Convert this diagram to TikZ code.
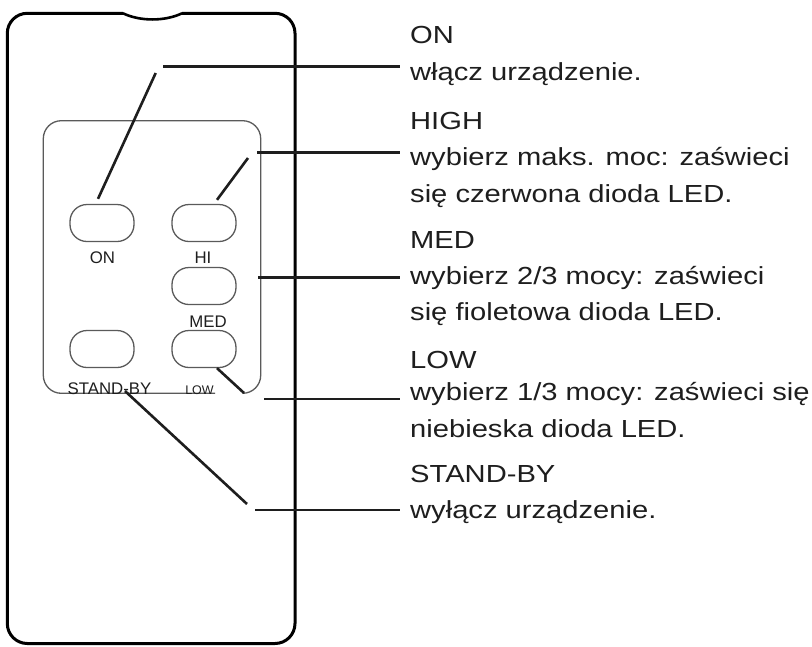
\documentclass[tikz,border=0pt]{standalone}
\usepackage{fontspec}
\setmainfont{Liberation Sans}
\newfontfamily\descfont[FakeStretch=1.18]{Liberation Sans}
\definecolor{ink}{HTML}{1E1E1E}
\definecolor{panelgray}{HTML}{5A5A5A}
\begin{document}
\begin{tikzpicture}
        [x=1pt, y=-1pt,
        remote/.style={line width=3pt, black, rounded corners=20pt},
        panel/.style={line width=1.3pt, panelgray, rounded corners=18pt},
        button/.style={rectangle, draw=panelgray, line width=1.3pt, rounded corners=17pt, minimum width=64pt, minimum height=37pt, inner sep=0pt},
        btnLabel/.style={anchor=base, inner sep=0pt, text=ink, font=\fontsize{16.8}{20}\selectfont},
        leader/.style={line width=2.6pt, ink},
        title/.style={anchor=base west, inner sep=0pt, text=ink, font={\descfont\fontsize{24.7}{36.5}\selectfont}},
        desc/.style={anchor=base west, inner sep=0pt, text=ink, align=left, font={\descfont\fontsize{24.7}{36.5}\selectfont}}]
        \useasboundingbox (0,0) rectangle (812,646);

        % remote body with the IR window notch
        \draw[remote] (123,13.3) -- (7.3,13.3) -- (7.3,643.5) -- (295,643.5) -- (295,13.3) -- (182,13.3);
        \draw[line width=2.6pt, black] (123,13.3) .. controls (140,21.5) and (165,21.5) .. (182,13.3);
        \draw[panel] (215,393.3) -- (43.3,393.3) -- (43.3,120.7) -- (260.7,120.7) -- (260.7,393.3) -- (243,393.3);

        \node[button] (btnOn) at (102,223) {};
        \node[button] (btnHi) at (204,223) {};
        \node[button] (btnMed) at (204,286) {};
        \node[button] (btnStandby) at (102,349) {};
        \node[button] (btnLow) at (204,349) {};

        \node[btnLabel] (lblOn) at (102.5,263) {ON};
        \node[btnLabel] (lblHi) at (203,263) {HI};
        \node[btnLabel] (lblMed) at (208,327) {MED};
        \node[btnLabel] (lblStandby) at (109.5,394) {STAND-BY};
        \node[btnLabel, font=\fontsize{12.5}{15}\selectfont] (lblLow) at (199.5,394) {LOW};

        % multi-line texts sit on the baseline of their last line
        \node[title] (tOn) at (410,43) {ON};
        \node[desc] (dOn) at (410,80) {włącz urządzenie.};
        \node[title] (tHigh) at (410,129) {HIGH};
        \node[desc] (dHigh) at (410,202) {wybierz maks. moc: zaświeci\\się czerwona dioda LED.};
        \node[title] (tMed) at (410,248) {MED};
        \node[desc] (dMed) at (410,320.7) {wybierz 2/3 mocy: zaświeci\\się fioletowa dioda LED.};
        \node[title] (tLow) at (410,368) {LOW};
        \node[desc] (dLow) at (410,437) {wybierz 1/3 mocy: zaświeci się\\niebieska dioda LED.};
        \node[title] (tStandby) at (410,482) {STAND-BY};
        \node[desc] (dStandby) at (410,518) {wyłącz urządzenie.};

        \coordinate (onTip) at (155.7,73);
        \coordinate (onKnee) at (163,66.7);
        \coordinate (hiTip) at (248,158);
        \coordinate (hiKnee) at (257,152.3);
        \coordinate (medKnee) at (258,277.7);
        \coordinate (lowTip) at (244,393);
        \coordinate (lowKnee) at (264,399);
        \coordinate (sbTip) at (247,504);
        \coordinate (sbKnee) at (255,510);

        \draw[leader] ([xshift=-4pt,yshift=5pt]btnOn.north) -- (onTip);
        \draw[leader] (onKnee) -- ([xshift=-10pt]onKnee -| dOn.west);
        \draw[leader] ([xshift=13pt,yshift=4pt]btnHi.north) -- (hiTip);
        \draw[leader] (hiKnee) -- ([xshift=-10pt]hiKnee -| dHigh.west);
        \draw[leader] (medKnee) -- ([xshift=-10pt]medKnee -| dMed.west);
        \draw[leader] ([xshift=13pt]btnLow.south) -- (lowTip);
        \draw[leader] (lowKnee) -- ([xshift=-10pt]lowKnee -| dLow.west);
        \draw[leader] ([xshift=15.5pt,yshift=3pt]lblStandby.base) -- (sbTip);
        \draw[leader] (sbKnee) -- ([xshift=-10pt]sbKnee -| dStandby.west);
    \end{tikzpicture}
\end{document}
